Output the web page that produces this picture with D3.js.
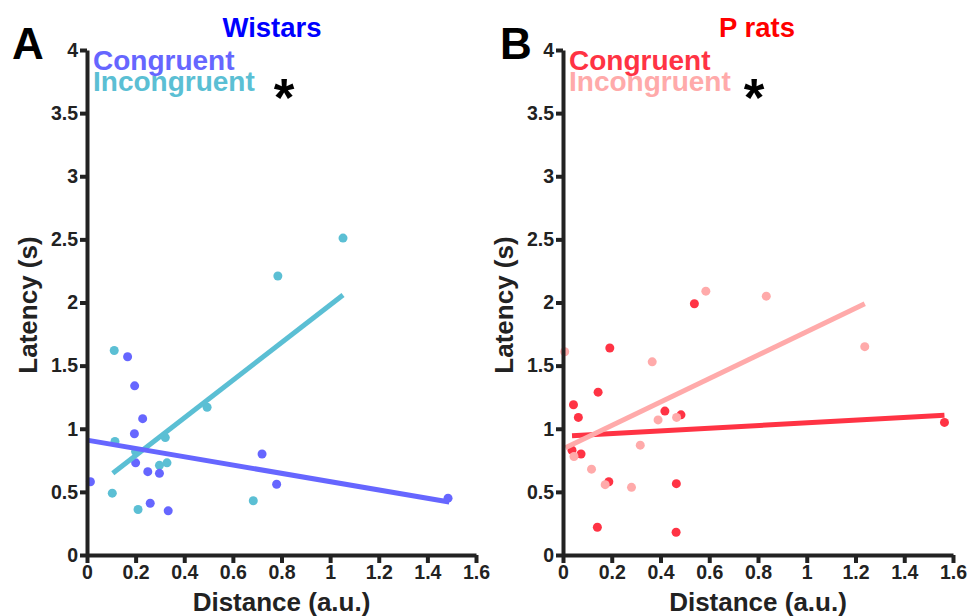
<!DOCTYPE html>
<html>
<head>
<meta charset="utf-8">
<script src="https://cdn.jsdelivr.net/npm/d3@7"></script>
<style>
  body { margin: 0; background: #fff; }
  svg text { font-family: "Liberation Sans", Arial, sans-serif; font-weight: bold; }
</style>
</head>
<body>
<div id="chart"></div>
<script>
// values
const xTicks = [0, 0.2, 0.4, 0.6, 0.8, 1, 1.2, 1.4, 1.6];
const yTicks = [0, 0.5, 1, 1.5, 2, 2.5, 3, 3.5, 4];

const wistarCongruent = [
  [0.014, 0.58], [0.167, 1.57], [0.196, 1.34], [0.195, 0.96], [0.229, 1.08],
  [0.2, 0.73], [0.25, 0.66], [0.298, 0.647], [0.26, 0.41], [0.334, 0.35],
  [0.72, 0.8], [0.78, 0.56], [1.485, 0.45]
];
const wistarIncongruent = [
  [0.112, 1.62], [0.785, 2.21], [1.053, 2.51], [0.494, 1.17], [0.115, 0.9],
  [0.2, 0.82], [0.322, 0.93], [0.298, 0.71], [0.329, 0.73], [0.104, 0.49],
  [0.21, 0.36], [0.684, 0.43]
];
const wistarFitCongruent = [[0, 0.91], [1.49, 0.42]];
const wistarFitIncongruent = [[0.106, 0.647], [1.053, 2.06]];

const pCongruent = [
  [0.539, 1.99], [0.192, 1.64], [0.144, 1.29], [0.043, 1.19], [0.063, 1.09],
  [0.418, 1.14], [0.484, 1.11], [1.565, 1.05], [0.037, 0.83], [0.074, 0.8],
  [0.188, 0.58], [0.465, 0.565], [0.141, 0.22], [0.464, 0.18]
];
const pIncongruent = [
  [0.007, 1.61], [0.586, 2.09], [0.834, 2.05], [0.366, 1.53], [1.238, 1.65],
  [0.39, 1.07], [0.466, 1.09], [0.317, 0.87], [0.045, 0.78], [0.117, 0.68],
  [0.173, 0.557], [0.281, 0.536]
];
const pFitCongruent = [[0.037, 0.945], [1.565, 1.107]];
const pFitIncongruent = [[0.01, 0.85], [1.238, 1.99]];

const panels = [
  {
    letter: "A", letterX: 12, title: "Wistars", titleX: 272, titleColor: "#0000ff",
    starX: 284,
    left: 87, right: 476,
    colors: ["#6666ff", "#5bbfd4"],
    series: [wistarIncongruent, wistarCongruent],
    fits: [wistarFitIncongruent, wistarFitCongruent],
    seriesColors: ["#5bbfd4", "#6666ff"]
  },
  {
    letter: "B", letterX: 500, title: "P rats", titleX: 757, titleColor: "#ff0000",
    starX: 754,
    left: 563, right: 953,
    colors: ["#ff3344", "#ffaaaa"],
    series: [pCongruent, pIncongruent],
    fits: [pFitCongruent, pFitIncongruent],
    seriesColors: ["#ff3344", "#ffaaaa"]
  }
];

const width = 973;
const height = 616;
const plotTop = 50;
const plotBottom = 555;

const svg = d3.select("#chart")
  .append("svg")
  .attr("width", width)
  .attr("height", height);

panels.forEach((p) => {
  const x = d3.scaleLinear().domain([0, 1.6]).range([p.left, p.right]);
  const y = d3.scaleLinear().domain([0, 4]).range([plotBottom, plotTop]);
  const g = svg.append("g");

  // dots and fit lines
  const line = d3.line().x((d) => x(d[0])).y((d) => y(d[1]));
  p.series.forEach((s, i) => {
    g.append("g")
      .selectAll("circle")
      .data(s)
      .enter()
      .append("circle")
      .attr("cx", (d) => x(d[0]))
      .attr("cy", (d) => y(d[1]))
      .attr("r", 4.5)
      .attr("fill", p.seriesColors[i]);
  });
  p.fits.forEach((f, i) => {
    g.append("path")
      .datum(f)
      .attr("fill", "none")
      .attr("stroke", p.seriesColors[i])
      .attr("stroke-width", 5)
      .attr("d", line);
  });

  // axes
  const fmt = (d) => String(+d.toFixed(1));
  const xAxis = d3.axisBottom(x).tickValues(xTicks).tickFormat(fmt).tickSize(8).tickSizeOuter(0);
  const yAxis = d3.axisLeft(y).tickValues(yTicks).tickFormat(fmt).tickSize(7).tickSizeOuter(0);

  const gx = g.append("g")
    .attr("transform", `translate(0, ${plotBottom})`)
    .call(xAxis);
  const gy = g.append("g")
    .attr("transform", `translate(${p.left}, 0)`)
    .call(yAxis);

  [gx, gy].forEach((a) => {
    a.select(".domain").attr("stroke", "#222").attr("stroke-width", 4);
    a.selectAll(".tick line").attr("stroke", "#222").attr("stroke-width", 4);
    a.selectAll(".tick text")
      .attr("fill", "#222")
      .style("font-size", "19.5px")
      .style("font-family", "Liberation Sans, Arial, sans-serif")
      .style("font-weight", "bold");
  });
  gx.selectAll(".tick text").attr("y", 10);
  gy.selectAll(".tick text").attr("x", -9);

  // labels
  const cx = (p.left + p.right) / 2;
  g.append("text")
    .attr("x", p.titleX)
    .attr("y", 37)
    .attr("text-anchor", "middle")
    .attr("fill", p.titleColor)
    .style("font-size", "27.5px")
    .text(p.title);

  g.append("text")
    .attr("x", p.letterX)
    .attr("y", 59)
    .attr("fill", "#000")
    .style("font-size", "44px")
    .text(p.letter);

  g.append("text")
    .attr("x", cx)
    .attr("y", 611)
    .attr("text-anchor", "middle")
    .attr("fill", "#222")
    .style("font-size", "26px")
    .text("Distance (a.u.)");

  g.append("text")
    .attr("transform", `translate(${p.left - 50}, 305) rotate(-90)`)
    .attr("text-anchor", "middle")
    .attr("fill", "#222")
    .style("font-size", "26px")
    .text("Latency (s)");

  // legend
  g.append("text")
    .attr("x", p.left + 6)
    .attr("y", 70)
    .attr("fill", p.colors[0])
    .style("font-size", "28px")
    .text("Congruent");
  g.append("text")
    .attr("x", p.left + 6)
    .attr("y", 91)
    .attr("fill", p.colors[1])
    .style("font-size", "28px")
    .text("Incongruent");
  g.append("text")
    .attr("x", p.starX)
    .attr("y", 116)
    .attr("text-anchor", "middle")
    .attr("fill", "#000")
    .style("font-size", "53px")
    .text("*");
});
</script>
</body>
</html>
